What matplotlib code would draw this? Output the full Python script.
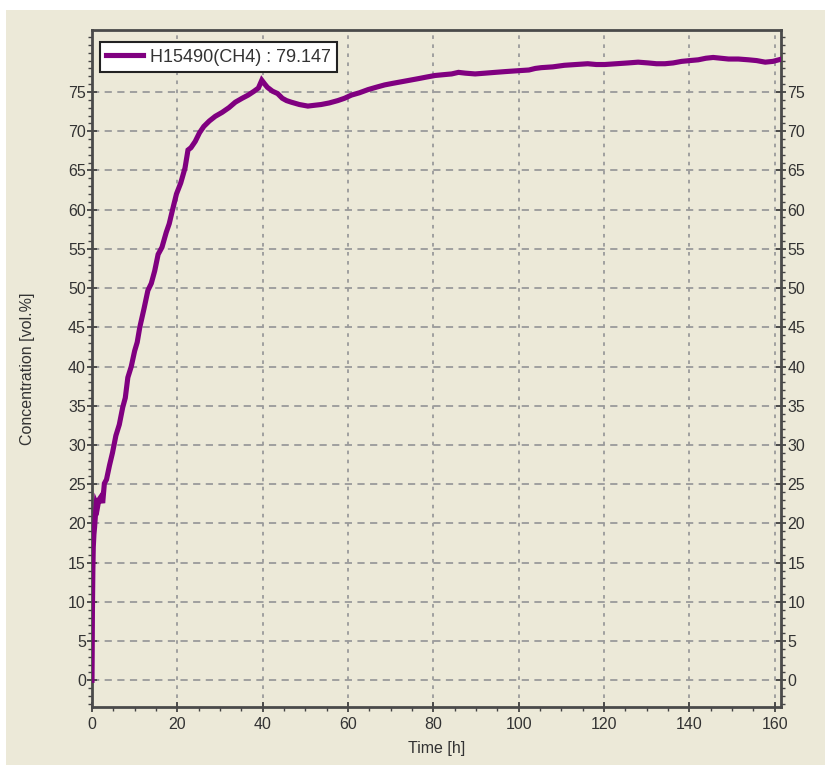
import matplotlib.pyplot as plt
from matplotlib.patches import Rectangle
from matplotlib.ticker import MultipleLocator

plt.rcParams['font.family'] = ['Liberation Sans', 'DejaVu Sans']

# CH4 concentration log
time_h = [0.0, 0.05, 0.1, 0.2, 0.3, 0.45, 0.6, 0.8, 1.0, 1.3, 1.6, 2.1, 2.5, 2.9, 3.4,
          4.1, 4.8, 5.6, 6.4, 7.2, 7.8, 8.4, 9.2, 10.0, 10.6, 11.2, 12.2, 13.1, 13.9,
          14.7, 15.5, 16.4, 17.4, 18.1, 18.8, 19.8, 20.8, 21.8, 22.5, 23.2, 24.2,
          25.2, 26.2, 27.5, 28.9, 30.5, 32.1, 33.6, 35.2, 36.6, 38.0, 39.0, 39.8,
          40.5, 41.1, 42.3, 43.5, 44.6, 45.6, 46.7, 48.6, 50.6, 52.1, 53.7, 55.6,
          57.6, 59.2, 60.8, 62.7, 64.7, 66.6, 68.6, 70.5, 72.5, 74.5, 76.5, 78.4,
          80.4, 82.3, 84.3, 85.9, 87.5, 89.8, 92.2, 94.5, 96.9, 99.6, 102.4, 103.9,
          105.3, 108.0, 110.7, 113.4, 116.2, 118.2, 120.2, 122.9, 125.6, 128.0,
          130.4, 132.3, 134.3, 136.2, 138.2, 140.1, 142.1, 143.9, 145.6, 147.4,
          149.2, 151.5, 153.9, 155.8, 157.8, 159.6, 161.3]
conc_pct = [0.0, 4.0, 9.0, 14.0, 17.0, 18.6, 19.5, 21.0, 22.5, 22.1, 23.0, 23.4, 22.6,
            25.1, 25.6, 27.4, 29.0, 31.2, 32.6, 34.8, 36.0, 38.6, 40.0, 42.0, 43.1,
            45.0, 47.4, 49.7, 50.6, 52.2, 54.3, 55.2, 57.1, 58.2, 59.8, 62.0, 63.4,
            65.3, 67.6, 67.9, 68.7, 69.8, 70.6, 71.3, 71.9, 72.4, 73.0, 73.7, 74.2,
            74.6, 75.1, 75.5, 76.5, 76.0, 75.6, 75.1, 74.8, 74.2, 73.9, 73.7, 73.4,
            73.2, 73.3, 73.4, 73.6, 73.9, 74.2, 74.6, 74.9, 75.3, 75.6, 75.9, 76.1,
            76.3, 76.5, 76.7, 76.9, 77.1, 77.2, 77.3, 77.5, 77.4, 77.3, 77.4, 77.5,
            77.6, 77.7, 77.8, 78.0, 78.1, 78.2, 78.4, 78.5, 78.6, 78.5, 78.5, 78.6,
            78.7, 78.8, 78.7, 78.6, 78.6, 78.7, 78.9, 79.0, 79.1, 79.3, 79.4, 79.3,
            79.2, 79.2, 79.1, 79.0, 78.8, 78.9, 79.147]

series_name = 'H15490(CH4)'
x_ticks = list(range(0, 161, 20))
y_ticks = list(range(0, 76, 5))

bg = '#ECE9D8'
purple = '#800080'
text_col = '#333333'

fig = plt.figure(figsize=(8.25, 7.65), dpi=100)
fig.patch.set_facecolor(bg)
# thin white strips along the top and left edge
fig.patches.append(Rectangle((0, 1 - 10 / 765), 1, 10 / 765, transform=fig.transFigure,
                             facecolor='white', edgecolor='none'))
fig.patches.append(Rectangle((0, 0), 6 / 825, 1, transform=fig.transFigure,
                             facecolor='white', edgecolor='none'))

ax = fig.add_axes([92 / 825, 1 - 707 / 765, (781 - 92) / 825, (707 - 30) / 765])
ax.set_facecolor(bg)

ax.plot(time_h, conc_pct, color=purple, lw=3.7, solid_joinstyle='miter',
        label=f'{series_name} : {conc_pct[-1]:.3f}', zorder=3)

ax.set_xlim(0, 161.5)
ax.set_ylim(-3.4, 82.9)
ax.set_xticks(x_ticks)
ax.set_yticks(y_ticks)
ax.xaxis.set_minor_locator(MultipleLocator(5))
ax.yaxis.set_minor_locator(MultipleLocator(1))

ax.grid(axis='y', which='major', color='#9a9a9a', linestyle=(0, (4, 3)), lw=1.3)
ax.grid(axis='x', which='major', color='#9a9a9a', linestyle=(0, (2, 3)), lw=1.3)

ax.tick_params(which='both', right=True, labelright=True, colors='#444444',
               labelcolor=text_col, labelsize=11.5)
ax.tick_params(which='major', direction='inout', length=7, width=1.3)
ax.tick_params(which='minor', direction='out', length=3, width=1.0)
ax.tick_params(axis='y', pad=1)

for sp in ax.spines.values():
    sp.set_color('#4a4a4a')
    sp.set_linewidth(2)

ax.set_xlabel('Time [h]', fontsize=11.5, color=text_col, labelpad=7)
ax.set_ylabel('Concentration [vol.%]', fontsize=11.5, color=text_col, labelpad=24)

leg = ax.legend(loc='upper left', bbox_to_anchor=(0.004, 0.99), fontsize=13,
                frameon=True, fancybox=False, handlelength=2.0, handletextpad=0.4,
                borderpad=0.35, borderaxespad=0.3)
leg.get_frame().set_edgecolor('#222222')
leg.get_frame().set_linewidth(1.5)
leg.get_frame().set_facecolor('white')
leg.get_frame().set_alpha(1)
for t in leg.get_texts():
    t.set_color(text_col)

fig.savefig('out.png', dpi=100, facecolor=fig.get_facecolor())
